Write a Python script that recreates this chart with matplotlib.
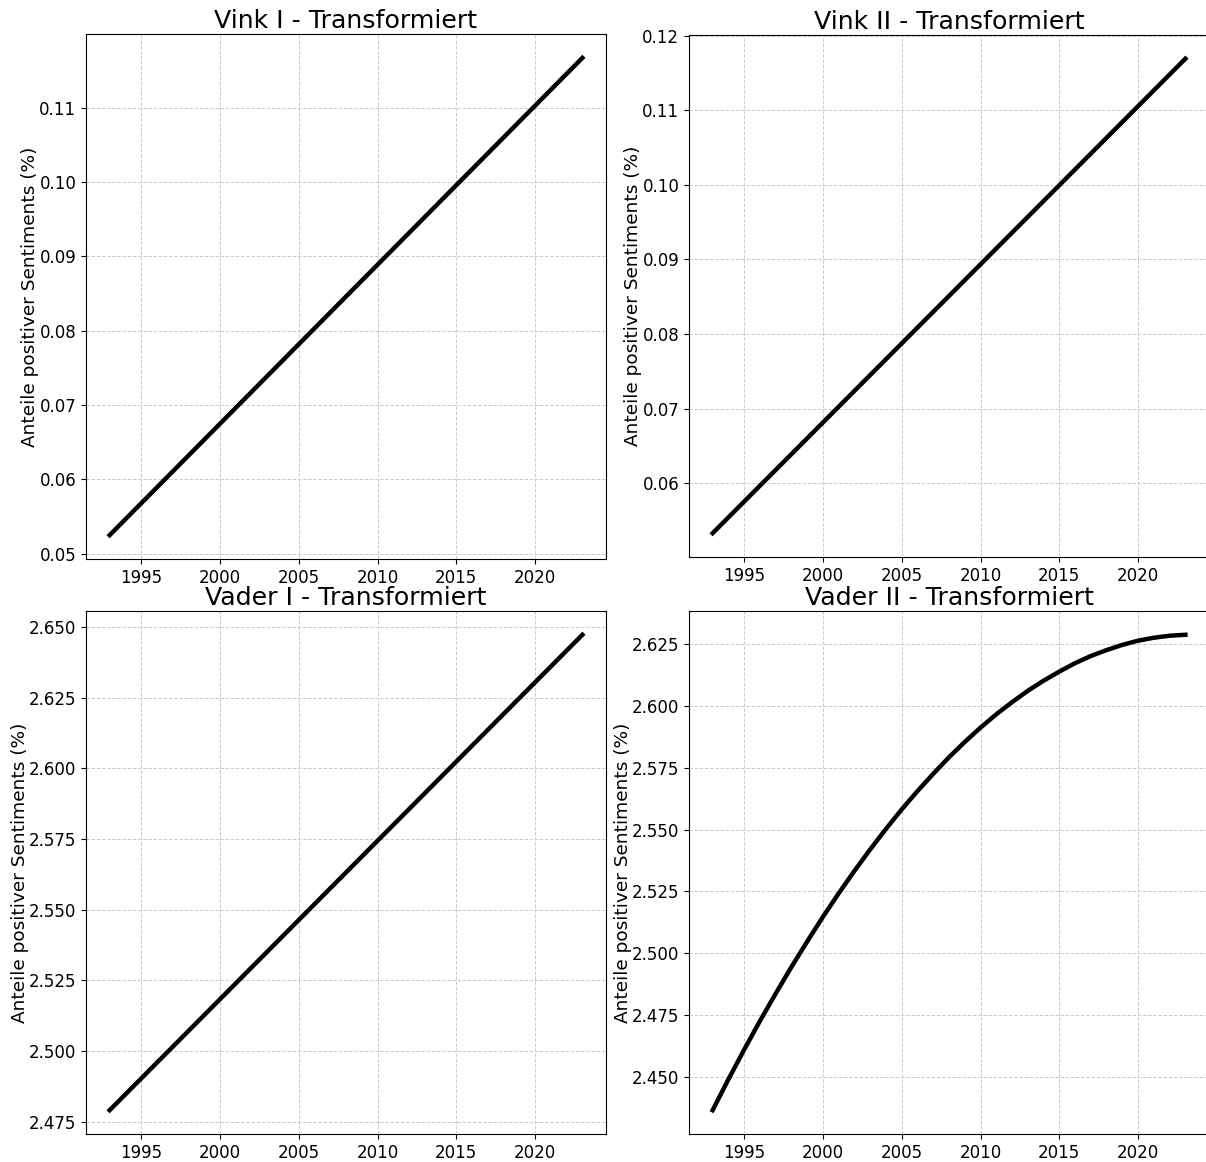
import matplotlib.pyplot as plt

jahre = list(range(1993, 2024))

vink_1 = [0.05250, 0.05464, 0.05678, 0.05892, 0.06106, 0.06320, 0.06534, 0.06748, 0.06962, 0.07176,
          0.07390, 0.07604, 0.07818, 0.08032, 0.08246, 0.08460, 0.08674, 0.08888, 0.09102, 0.09316,
          0.09530, 0.09744, 0.09958, 0.10172, 0.10386, 0.10600, 0.10814, 0.11028, 0.11242, 0.11456,
          0.11670]

vink_2 = [0.05330, 0.05542, 0.05754, 0.05966, 0.06178, 0.06390, 0.06602, 0.06814, 0.07026, 0.07238,
          0.07450, 0.07662, 0.07874, 0.08086, 0.08298, 0.08510, 0.08722, 0.08934, 0.09146, 0.09358,
          0.09570, 0.09782, 0.09994, 0.10206, 0.10418, 0.10630, 0.10842, 0.11054, 0.11266, 0.11478,
          0.11690]

vader_1 = [2.47900, 2.48461, 2.49022, 2.49583, 2.50144, 2.50705, 2.51266, 2.51827, 2.52388, 2.52949,
           2.53510, 2.54071, 2.54632, 2.55193, 2.55754, 2.56315, 2.56876, 2.57437, 2.57998, 2.58559,
           2.59120, 2.59681, 2.60242, 2.60803, 2.61364, 2.61925, 2.62486, 2.63047, 2.63608, 2.64169,
           2.64730]

vader_2 = [2.4364, 2.4489, 2.4609, 2.4725, 2.4836, 2.4944, 2.5047, 2.5147, 2.5242, 2.5333,
           2.5420, 2.5503, 2.5582, 2.5656, 2.5726, 2.5793, 2.5855, 2.5913, 2.5967, 2.6016,
           2.6062, 2.6103, 2.6140, 2.6174, 2.6203, 2.6227, 2.6248, 2.6265, 2.6277, 2.6285,
           2.6289]

titel = ['Vink I - Transformiert', 'Vink II - Transformiert',
         'Vader I - Transformiert', 'Vader II - Transformiert']
reihen = [vink_1, vink_2, vader_1, vader_2]

fig = plt.figure(figsize=(12.06, 11.62), dpi=100)

# manuelle Positionen, rechte Spalte laeuft ueber den Bildrand hinaus
positionen = [
    [0.0713, 0.5189, 0.4312, 0.4518],
    [0.5713, 0.5207, 0.4312, 0.4492],
    [0.0713, 0.0241, 0.4312, 0.4501],
    [0.5713, 0.0241, 0.4312, 0.4501],
]

for pos, werte, t in zip(positionen, reihen, titel):
    ax = fig.add_axes(pos)
    ax.plot(jahre, werte, color='black', linewidth=3.2)
    ax.set_title(t, fontsize=18.2, pad=4)
    ax.set_ylabel('Anteile positiver Sentiments (%)', fontsize=13.3, labelpad=0)
    ax.tick_params(labelsize=12)
    ax.grid(True, linestyle='--', color='#cccccc', linewidth=0.7)

fig.savefig('out.png', dpi=100)
